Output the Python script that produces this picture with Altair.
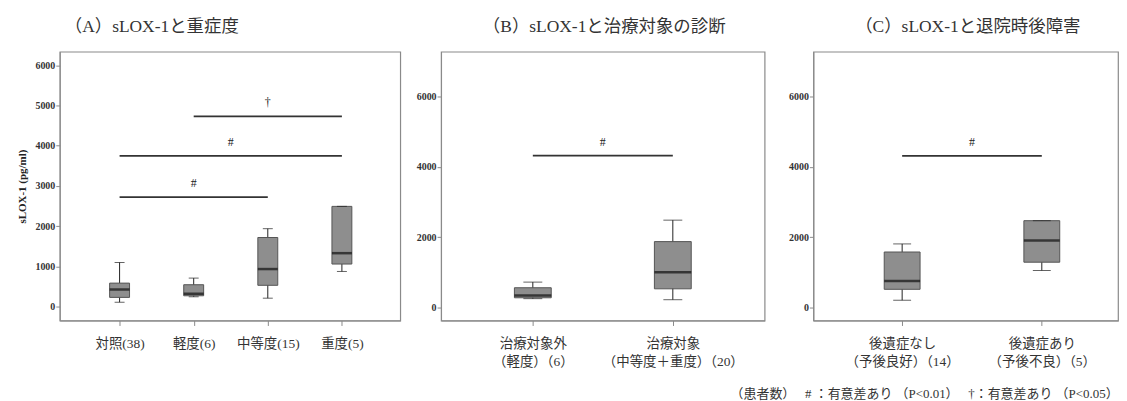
import json
import altair as alt
import pandas as pd

FONT = "Liberation Serif, Noto Sans CJK JP"

# ---- Panel A: sLOX-1 and severity ----
A_cats = ["対照(38)", "軽度(6)", "中等度(15)", "重度(5)"]
A_low = [105, 240, 205, 870]
A_q1 = [225, 265, 525, 1055]
A_med = [420, 315, 930, 1325]
A_q3 = [580, 540, 1715, 2490]
A_high = [1095, 705, 1935, 2490]
A_sig_from = [1, 0, 0]
A_sig_to = [3, 3, 2]
A_sig_y = [4730, 3745, 2720]
A_sig_lab = ["†", "#", "#"]

# ---- Panel B: sLOX-1 and treatment target ----
B_cats = ["治療対象外|（軽度）（6）", "治療対象|（中等度＋重度）（20）"]
B_low = [255, 225]
B_q1 = [280, 535]
B_med = [345, 1005]
B_q3 = [565, 1875]
B_high = [725, 2485]
B_sig_from = [0]
B_sig_to = [1]
B_sig_y = [4320]
B_sig_lab = ["#"]

# ---- Panel C: sLOX-1 and sequelae at discharge ----
C_cats = ["後遺症なし|（予後良好）（14）", "後遺症あり|（予後不良）（5）"]
C_low = [210, 1055]
C_q1 = [520, 1290]
C_med = [755, 1905]
C_q3 = [1580, 2470]
C_high = [1810, 2470]
C_sig_from = [0]
C_sig_to = [1]
C_sig_y = [4310]
C_sig_lab = ["#"]

TITLES = ["（A）sLOX-1と重症度", "（B）sLOX-1と治療対象の診断", "（C）sLOX-1と退院時後障害"]
FOOTER = "（患者数）　 #  ：有意差あり （P<0.01）　 †：有意差あり （P<0.05）"


def panel(cats, low, q1, med, q3, high, sf, st, sy, sl, xdom, ydom, yticks,
          width, box_w, cap_w, title, title_dx, ytitle):
    n = len(cats)
    box = pd.DataFrame({"i": list(range(n)), "low": low, "q1": q1, "med": med,
                        "q3": q3, "high": high})
    sig = pd.DataFrame({"a": sf, "b": st, "y": sy, "lab": sl})
    sig["mid"] = (sig["a"] + sig["b"]) / 2
    label_expr = "split(" + json.dumps(cats, ensure_ascii=False) + "[datum.value], '|')"
    xs = alt.Scale(domain=xdom, nice=False, zero=False)
    ys = alt.Scale(domain=ydom, nice=False, zero=False)
    xaxis = alt.Axis(values=list(range(n)), labelExpr=label_expr, title=None,
                     grid=False, labelFontSize=13.5, labelPadding=11, tickSize=5,
                     labelLineHeight=18)
    yaxis_kw = dict(values=yticks, grid=False, format="d", labelFontSize=10,
                    labelFontWeight="bold", tickSize=4, labelPadding=1)
    if ytitle:
        yaxis = alt.Axis(title=ytitle, titleFontSize=11, titleFontWeight="bold",
                         titlePadding=7, **yaxis_kw)
    else:
        yaxis = alt.Axis(title=None, **yaxis_kw)
    X = alt.X("i:Q", scale=xs, axis=xaxis)
    base = alt.Chart(box)
    whisk = base.mark_rule(color="#222", strokeWidth=1).encode(
        x=X, y=alt.Y("low:Q", scale=ys, axis=yaxis), y2="high:Q")
    bar = base.mark_bar(size=box_w, fill="#8e8e8e", stroke="#555",
                        strokeWidth=1).encode(x=X, y=alt.Y("q1:Q", scale=ys), y2="q3:Q")
    cap_lo = base.mark_tick(orient="horizontal", size=cap_w, thickness=1,
                            color="#222").encode(x=X, y=alt.Y("low:Q", scale=ys))
    cap_hi = base.mark_tick(orient="horizontal", size=cap_w, thickness=1,
                            color="#222").encode(x=X, y=alt.Y("high:Q", scale=ys))
    median = base.mark_tick(orient="horizontal", size=box_w, thickness=2.5,
                            color="#111").encode(x=X, y=alt.Y("med:Q", scale=ys))
    sbase = alt.Chart(sig)
    srule = sbase.mark_rule(color="#333", strokeWidth=1.8).encode(
        x=alt.X("a:Q", scale=xs), x2="b:Q", y=alt.Y("y:Q", scale=ys))
    stext = sbase.mark_text(dy=-14, fontSize=12, fill="#222").encode(
        x=alt.X("mid:Q", scale=xs), y=alt.Y("y:Q", scale=ys), text="lab:N")
    return alt.layer(whisk, bar, cap_lo, cap_hi, median, srule, stext).properties(
        width=width, height=270,
        title=alt.TitleParams(title, anchor="start", frame="group", dx=title_dx,
                              fontSize=17.5, fontWeight="normal", color="#333",
                              offset=16))


pa = panel(A_cats, A_low, A_q1, A_med, A_q3, A_high, A_sig_from, A_sig_to, A_sig_y,
           A_sig_lab, [-0.74, 3.72], [-350, 6340], [0, 1000, 2000, 3000, 4000, 5000, 6000],
           342, 20, 10, TITLES[0], 5, "sLOX-1 (pg/ml)")
pb = panel(B_cats, B_low, B_q1, B_med, B_q3, B_high, B_sig_from, B_sig_to, B_sig_y,
           B_sig_lab, [-0.62, 1.62], [-365, 7270], [0, 2000, 4000, 6000],
           325, 37, 19, TITLES[1], 42, None)
pc = panel(C_cats, C_low, C_q1, C_med, C_q3, C_high, C_sig_from, C_sig_to, C_sig_y,
           C_sig_lab, [-0.6, 1.51], [-365, 7270], [0, 2000, 4000, 6000],
           306, 36, 18, TITLES[2], 42, None)

chart = alt.hconcat(pa, alt.hconcat(pb, pc, spacing=22), spacing=14).properties(
    title=alt.TitleParams(FOOTER, orient="bottom", anchor="end", fontSize=13,
                          fontWeight="normal", color="#333", offset=20),
    padding={"left": 8, "top": 8, "right": 0, "bottom": 0},
).configure(font=FONT).configure_view(stroke="#8a8a8a", strokeWidth=1.2).configure_axis(
    domainColor="#8a8a8a", tickColor="#8a8a8a", labelColor="#333", titleColor="#222",
    labelFont=FONT, titleFont=FONT
).configure_title(font=FONT)

chart.save("out.html", embed_options={"renderer": "svg", "actions": False})
